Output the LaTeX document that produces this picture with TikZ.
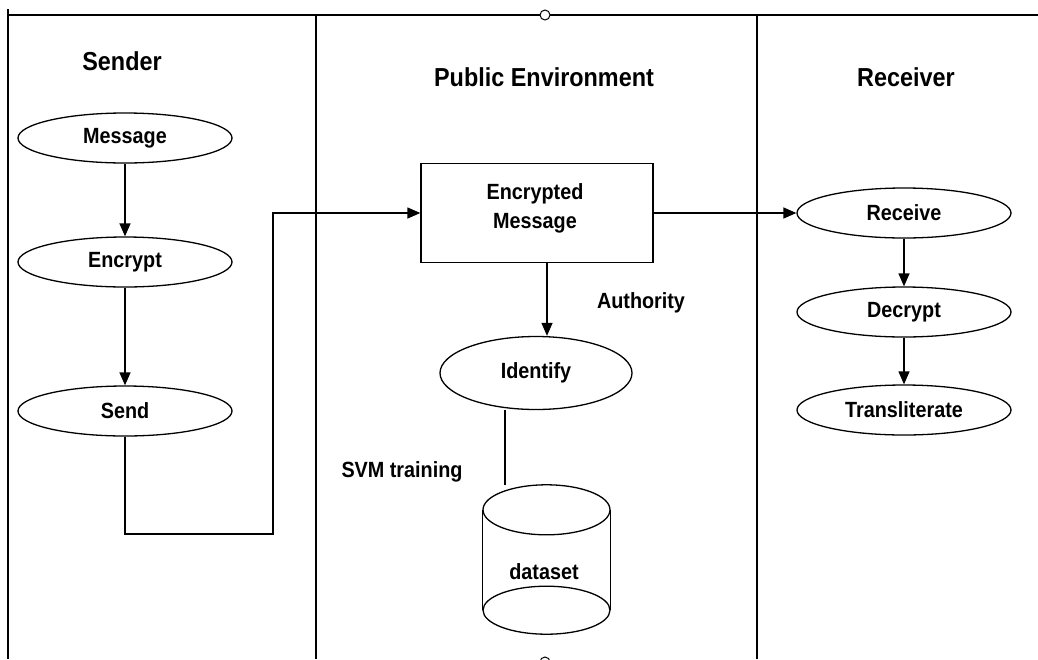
\documentclass[tikz,border=0pt]{standalone}
\usepackage{fontspec}
\setmainfont[FakeStretch=0.9]{Liberation Sans}
\usetikzlibrary{arrows.meta,shapes.geometric,calc}
\begin{document}
\begin{tikzpicture}[x=1pt,y=-1pt,
  ln/.style={line width=1.3pt, draw=black},
  arr/.style={ln, -{Triangle[length=13pt,width=11pt]}},
  oval/.style={ellipse, ln, minimum width=214pt, minimum height=50pt, inner sep=0pt, font=\fontsize{22}{26}\selectfont\bfseries},
  boxnode/.style={rectangle, ln, minimum width=232pt, minimum height=99pt, inner sep=0pt},
  head/.style={font=\fontsize{26}{30}\selectfont\bfseries, inner sep=0pt},
  lbl/.style={font=\fontsize{22}{26}\selectfont\bfseries, inner sep=0pt},
]
\useasboundingbox (0,0) rectangle (1038,659);
\fill[white] (0,0) rectangle (1038,659);

% swimlane frame
\draw[line width=1.5pt] (7,15) -- (1038,15);
\draw[line width=1.5pt] (8,9) -- (8,659);
\draw[line width=1.5pt] (316,15) -- (316,659);
\draw[line width=1.5pt] (757,15) -- (757,659);
\draw[line width=1pt, fill=white] (545,15) circle (5pt);
\draw[line width=1pt, fill=white] (545,662) circle (5pt);

% headings
\node[head] (hs) at (122,61) {Sender};
\node[head] (hp) at (544,77) {Public Environment};
\node[head] (hr) at (906,77) {Receiver};

% sender
\node[oval] (msg) at (125,138) {Message};
\node[oval] (enc) at (125,262) {Encrypt};
\node[oval] (send) at (125,411) {Send};

% public environment
\node[boxnode] (box) at (537,213) {};
\node[lbl, align=center, font=\fontsize{22}{29}\selectfont\bfseries] (boxtxt) at (535,208) {Encrypted\\Message};
\node[oval, minimum width=192pt, minimum height=73pt] (ident) at (536,373) {Identify};
\node[lbl] (auth) at (641,303) {Authority};
\node[lbl] (svm) at (402,472) {SVM training};
\node[rectangle, minimum width=127pt, minimum height=149pt, inner sep=0pt] (ds) at (546.5,559.5) {};
\draw[ln] ($(ds.north west)+(0,25)$) -- ($(ds.south west)+(0,-24)$);
\draw[ln] ($(ds.north east)+(0,25)$) -- ($(ds.south east)+(0,-24)$);
\draw[ln] ($(ds.north)+(0,25)$) ellipse (63.5pt and 25pt);
\draw[ln] ($(ds.south)+(0,-24)$) ellipse (63.5pt and 24pt);
\node[lbl] (dst) at (544,572) {dataset};

% receiver
\node[oval] (recv) at (904,213) {Receive};
\node[oval] (dec) at (904,312) {Decrypt};
\node[oval] (tra) at (904,410) {Transliterate};

% connectors
\coordinate (turn) at (273,534);
\draw[arr] (msg) -- (enc);
\draw[arr] (enc) -- (send);
\draw[arr] (send.south) |- (turn) |- (box.west);
\draw[arr] (box.east) -- (recv.west);
\draw[arr] ([xshift=10pt]box.south) -- ([xshift=11pt]ident.north);
\draw[ln] ([xshift=-31pt]ident.south) -- ([xshift=-41.5pt]ds.north);
\draw[arr] (recv) -- (dec);
\draw[arr] (dec) -- (tra);
\end{tikzpicture}
\end{document}
